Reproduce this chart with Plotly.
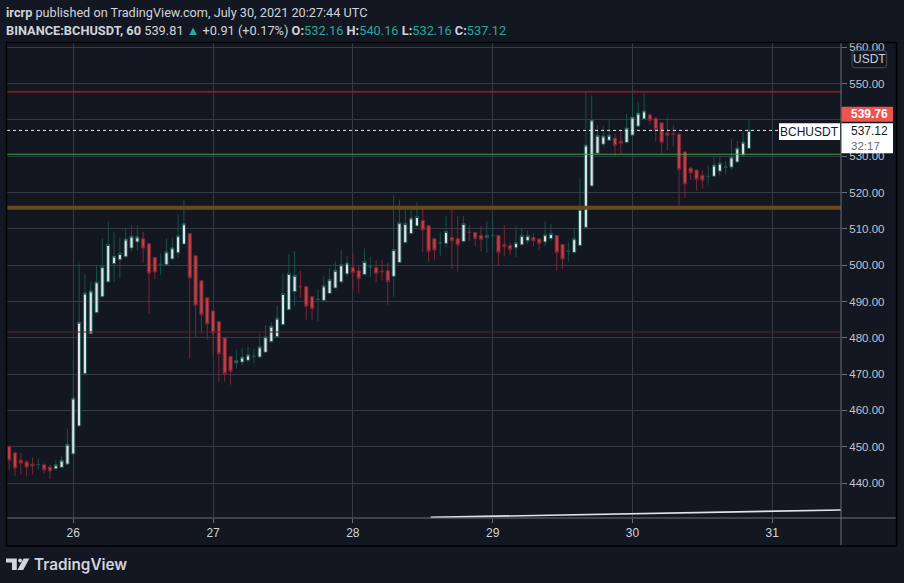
import pandas as pd
import plotly.graph_objects as go

# ---------------- data ----------------
start_time = "2021-07-25 13:00"

opens = [450.1, 448.3, 446.3, 445.8, 445.2, 445.05, 445.0, 444.4, 443.9, 444.3,
         445.2, 448.0, 455.7, 470.1, 481.1, 486.9, 491.3, 495.4, 500.4, 501.5,
         502.3, 504.7, 506.4, 507.3, 505.9, 502.1, 500.2, 500.1, 501.7, 503.4,
         505.8, 508.7, 502.6, 495.7, 491.0, 487.4, 484.4, 480.0, 474.9, 473.1,
         473.3, 473.8, 474.9, 474.7, 476.0, 478.9, 480.3, 483.6, 487.7, 492.7,
         494.1, 494.1, 491.3, 490.6, 490.3, 492.2, 493.7, 495.4, 497.6, 499.3,
         498.5, 497.4, 499.5, 499.3, 498.4, 498.5, 496.9, 500.7, 506.2, 508.7,
         510.8, 512.3, 510.9, 507.3, 506.1, 506.0, 507.6, 507.3, 506.5, 509.1,
         509.0, 508.2, 507.6, 508.1, 508.2, 505.7, 505.4, 504.8, 505.6, 506.7,
         507.6, 507.2, 506.4, 507.3, 508.2, 505.7, 503.8, 503.5, 505.4, 510.4,
         521.8, 530.8, 533.3, 534.4, 535.0, 534.2, 533.8, 535.8, 538.3, 540.3,
         541.4, 540.4, 539.2, 536.4, 536.1, 536.1, 531.2, 526.7, 526.2, 524.8,
         524.4, 524.5, 525.9, 527.0, 527.0, 528.4, 530.3, 532.16]

highs = [450.3, 448.5, 448.3, 446.4, 447.0, 446.7, 445.4, 445.0, 446.3, 447.5,
         455.0, 474.0, 500.5, 497.5, 495.5, 499.9, 507.4, 512.1, 509.1, 507.7,
         510.4, 511.0, 510.9, 509.1, 506.0, 502.2, 503.2, 507.3, 507.7, 514.0,
         517.9, 508.8, 502.7, 495.8, 491.1, 487.5, 484.5, 480.1, 475.0, 476.8,
         477.1, 477.5, 477.0, 481.2, 483.4, 484.3, 488.9, 497.7, 503.0, 503.9,
         498.5, 494.2, 491.5, 493.4, 497.0, 499.2, 501.2, 504.1, 502.6, 503.3,
         499.9, 504.6, 502.3, 501.3, 501.4, 500.7, 519.5, 517.9, 515.1, 516.1,
         517.3, 515.9, 511.0, 507.4, 509.0, 513.5, 515.7, 513.5, 513.5, 511.1,
         509.1, 510.7, 512.1, 512.8, 508.3, 511.0, 506.1, 510.7, 510.1, 509.6,
         508.8, 507.5, 512.1, 511.3, 508.3, 505.8, 506.3, 510.2, 523.8, 548.0,
         546.7, 538.7, 538.4, 540.1, 536.2, 536.9, 541.7, 549.5, 544.9, 547.5,
         541.8, 540.8, 539.3, 540.7, 538.7, 536.2, 531.3, 527.1, 526.3, 526.2,
         527.4, 530.1, 529.8, 528.7, 534.8, 534.2, 536.8, 540.16]

lows = [443.4, 442.0, 442.3, 441.8, 442.3, 443.7, 442.6, 441.1, 443.5, 444.0,
        445.0, 447.8, 455.5, 469.9, 481.0, 486.7, 491.1, 495.3, 495.4, 496.4,
        502.1, 503.8, 504.1, 500.8, 486.7, 496.1, 497.2, 500.0, 501.6, 502.1,
        505.7, 474.3, 480.2, 481.2, 479.4, 475.2, 468.0, 468.0, 467.1, 471.5,
        472.4, 473.3, 472.9, 474.3, 475.9, 478.7, 480.2, 483.5, 487.6, 488.7,
        491.0, 485.0, 485.0, 484.6, 490.2, 492.1, 493.6, 495.0, 496.8, 492.9,
        492.2, 497.3, 496.7, 495.3, 495.7, 489.1, 491.3, 500.7, 506.1, 508.6,
        510.6, 503.6, 500.9, 501.5, 502.6, 504.8, 498.9, 498.2, 506.2, 506.6,
        505.3, 503.7, 503.4, 503.5, 500.0, 502.4, 502.8, 502.3, 505.5, 505.8,
        505.3, 504.1, 505.4, 506.7, 498.5, 499.0, 501.0, 503.3, 505.2, 510.2,
        521.6, 530.6, 532.5, 534.2, 530.1, 530.5, 533.6, 535.7, 538.1, 540.1,
        538.6, 534.1, 530.9, 531.6, 532.7, 516.5, 518.6, 523.5, 520.6, 521.0,
        522.2, 524.3, 524.7, 525.0, 526.3, 528.2, 530.1, 532.16]

closes = [446.3, 444.1, 445.5, 444.4, 444.7, 445.1, 443.6, 443.3, 445.0, 446.3,
          450.7, 463.4, 484.3, 492.3, 492.9, 495.4, 499.6, 505.7, 502.5, 503.2,
          507.2, 508.0, 507.8, 504.7, 497.8, 498.1, 500.25, 503.7, 504.8, 508.1,
          511.4, 496.5, 489.0, 486.3, 483.8, 481.3, 475.6, 470.1, 470.8, 473.7,
          474.7, 475.3, 474.95, 477.5, 480.3, 483.2, 485.4, 492.2, 497.7, 497.2,
          494.05, 488.7, 488.0, 490.65, 494.3, 496.1, 498.6, 500.1, 500.6, 497.9,
          496.3, 501.0, 499.55, 497.7, 498.2, 495.5, 504.3, 511.7, 511.5, 513.0,
          513.4, 509.7, 503.8, 504.2, 506.15, 509.3, 506.7, 505.6, 511.5, 509.05,
          507.3, 507.1, 508.2, 508.15, 503.5, 505.1, 504.3, 506.2, 508.2, 508.2,
          506.7, 506.0, 508.4, 508.7, 503.5, 501.7, 503.85, 507.3, 515.4, 533.1,
          540.0, 535.8, 535.6, 535.8, 533.0, 533.6, 537.8, 540.8, 541.9, 542.5,
          539.9, 537.4, 533.8, 535.8, 536.05, 526.4, 522.4, 525.4, 523.6, 523.4,
          524.45, 527.6, 528.1, 527.05, 529.8, 532.3, 533.9, 537.12]

day_ticks = ["2021-07-26", "2021-07-27", "2021-07-28", "2021-07-29", "2021-07-30", "2021-07-31"]
day_labels = ["26", "27", "28", "29", "30", "31"]

price_ticks = [440, 450, 460, 470, 480, 490, 500, 510, 520, 530, 540, 550, 560]
price_tick_labels = ["440.00", "450.00", "460.00", "470.00", "480.00", "490.00", "500.00",
                     "510.00", "520.00", "530.00", "", "550.00", "560.00"]

level_prices = [547.8, 530.55, 515.8, 481.6]
last_price = 537.12
marked_price_label = "539.76"
last_price_label = "537.12"
countdown_label = "32:17"
symbol_label = "BCHUSDT"
currency_label = "USDT"

trend_times = ["2021-07-28 13:22", "2021-07-31 12:00"]
trend_prices = [430.55, 432.57]

x_range = ["2021-07-25 12:37:20", "2021-07-31 11:48:10"]
y_range = [430.36, 561.2]

times = pd.date_range(start_time, periods=len(opens), freq="h")

# ---------------- styling ----------------
BG = "#131722"
GRID = "#363a45"
AXIS = "#6b6e78"
TXT = "#d1d4dc"
TEAL = "#2ba89b"
FONT = "Liberation Sans"
HFONT = "Roboto"

level_colors = ["#7d1d23", "#43a047", "#674a1b", "#61202a"]
level_widths = [2, 1, 4, 1]

W, H = 904, 583
L, R, T, B = 7, 841, 43, 518


def px(x):
    return (x - L) / (R - L)


def py(y):
    return (B - y) / (B - T)


fig = go.Figure()

fig.add_trace(go.Candlestick(
    x=times, open=opens, high=highs, low=lows, close=closes,
    increasing=dict(line=dict(color="#17514c", width=1), fillcolor="#e1e3e8"),
    decreasing=dict(line=dict(color="#7a2630", width=1), fillcolor="#c1414b"),
    whiskerwidth=0, showlegend=False, hoverinfo="skip",
))

fig.add_trace(go.Scatter(
    x=trend_times, y=trend_prices, mode="lines",
    line=dict(color="#e0e3eb", width=1.6), showlegend=False, hoverinfo="skip",
))

shapes = []
for p, c, w in zip(level_prices, level_colors, level_widths):
    shapes.append(dict(type="line", xref="paper", yref="y", x0=0, x1=1, y0=p, y1=p,
                       line=dict(color=c, width=w), layer="above"))
# last price dotted line
shapes.append(dict(type="line", xref="paper", yref="y", x0=0, x1=px(779), y0=last_price, y1=last_price,
                   line=dict(color="#e8eaed", width=1, dash="dot"), layer="above"))
# cover above chart pane (clips top axis label)
shapes.append(dict(type="rect", xref="paper", yref="paper", x0=px(841.5), x1=px(904), y0=py(42.6), y1=py(0),
                   fillcolor=BG, line=dict(width=0), layer="above"))
# x axis line across to the frame
shapes.append(dict(type="line", xref="paper", yref="paper", x0=px(7), x1=px(896.5), y0=py(518), y1=py(518),
                   line=dict(color=AXIS, width=1), layer="above"))
# price axis separator
shapes.append(dict(type="line", xref="paper", yref="paper", x0=px(841), x1=px(841), y0=py(42.5), y1=py(546),
                   line=dict(color=AXIS, width=1), layer="above"))
# outer frame
shapes.append(dict(type="rect", xref="paper", yref="paper", x0=px(6.5), x1=px(896.5), y0=py(546), y1=py(42.5),
                   line=dict(color="#000000", width=1.5), fillcolor="rgba(0,0,0,0)", layer="above"))

# price labels
shapes.append(dict(type="rect", xref="paper", yref="paper", x0=px(841.5), x1=px(893), y0=py(121.7), y1=py(106.7),
                   fillcolor="#ef5350", line=dict(width=0), layer="above"))
shapes.append(dict(type="rect", xref="paper", yref="paper", x0=px(841.5), x1=px(893), y0=py(153.3), y1=py(123.3),
                   fillcolor="#ffffff", line=dict(width=0), layer="above"))
shapes.append(dict(type="rect", xref="paper", yref="paper", x0=px(779), x1=px(840), y0=py(140), y1=py(123.3),
                   fillcolor="#ffffff", line=dict(width=0), layer="above"))


def rounded_rect(x0, y0, x1, y1, r):
    X = lambda v: px(v)
    Y = lambda v: py(v)
    return (f"M {X(x0 + r)},{Y(y0)} L {X(x1 - r)},{Y(y0)} Q {X(x1)},{Y(y0)} {X(x1)},{Y(y0 + r)} "
            f"L {X(x1)},{Y(y1 - r)} Q {X(x1)},{Y(y1)} {X(x1 - r)},{Y(y1)} "
            f"L {X(x0 + r)},{Y(y1)} Q {X(x0)},{Y(y1)} {X(x0)},{Y(y1 - r)} "
            f"L {X(x0)},{Y(y0 + r)} Q {X(x0)},{Y(y0)} {X(x0 + r)},{Y(y0)} Z")


shapes.append(dict(type="path", xref="paper", yref="paper", path=rounded_rect(852, 50.7, 886.7, 67.7, 3),
                   line=dict(color="#4a4d57", width=1), fillcolor=BG, layer="above"))

# TradingView logo
def poly(pts):
    return "M " + " L ".join(f"{px(a)},{py(b)}" for a, b in pts) + " Z"


LOGO = "#d1d4dc"
shapes.append(dict(type="path", xref="paper", yref="paper",
                   path=poly([(6, 558.4), (16.8, 558.4), (16.8, 570), (12, 570), (12, 562.6), (6, 562.6)]),
                   fillcolor=LOGO, line=dict(width=0), layer="above"))
shapes.append(dict(type="circle", xref="paper", yref="paper", x0=px(18.2), x1=px(22.0), y0=py(562.4), y1=py(558.6),
                   fillcolor=LOGO, line=dict(width=0), layer="above"))
shapes.append(dict(type="path", xref="paper", yref="paper",
                   path=poly([(23.6, 558.4), (29.4, 558.4), (23.2, 570), (17.4, 570)]),
                   fillcolor=LOGO, line=dict(width=0), layer="above"))

annotations = []


def note(text, x, y, size=12, color=TXT, xanchor="left", family=FONT, weight=None):
    f = dict(family=family, size=size, color=color)
    if weight:
        f["weight"] = weight
    annotations.append(dict(text=text, x=px(x), y=py(y), xref="paper", yref="paper", showarrow=False,
                            xanchor=xanchor, yanchor="middle", borderpad=0, font=f))


note("<b>ircrp</b> published on TradingView.com, July 30, 2021 20:27:44 UTC", 5, 12.8, size=12.7, family=HFONT)
hdr = (f"<b>BINANCE:BCHUSDT, 60</b> 539.81 <span style='color:{TEAL}'>▲</span> +0.91 (+0.17%) "
       f"<b>O:</b><span style='color:{TEAL}'>{opens[-1]:.2f}</span> "
       f"<b>H:</b><span style='color:{TEAL}'>{highs[-1]:.2f}</span> "
       f"<b>L:</b><span style='color:{TEAL}'>{lows[-1]:.2f}</span> "
       f"<b>C:</b><span style='color:{TEAL}'>{closes[-1]:.2f}</span>")
note(hdr, 5, 30.3, size=12.8, family=HFONT)

note(currency_label, 869.3, 59.3, size=12, xanchor="center")
note(f"<b>{marked_price_label}</b>", 850, 114.3, size=12, color="#ffffff")
note(last_price_label, 850.5, 131.4, size=12, color="#131722")
note(countdown_label, 850.5, 145.6, size=11.5, color="#6a6d78")
note(symbol_label, 809.5, 131.8, size=12, color="#131722", xanchor="center")
note("TradingView", 32.5, 564.2, size=15.3, color=LOGO, family="Inter", weight=600)

fig.update_layout(
    width=W, height=H,
    margin=dict(l=L, r=W - R, t=T, b=H - B, pad=0),
    paper_bgcolor=BG, plot_bgcolor=BG,
    showlegend=False,
    boxgap=0.22,
    shapes=shapes,
    annotations=annotations,
    font=dict(family=FONT, color=TXT),
    xaxis=dict(
        type="date", range=x_range, rangeslider=dict(visible=False),
        tickmode="array", tickvals=day_ticks, ticktext=day_labels,
        showgrid=True, gridcolor=GRID, gridwidth=1,
        ticks="outside", ticklen=4, tickcolor=AXIS,
        tickfont=dict(family=FONT, size=12, color=TXT),
        showline=False, zeroline=False, fixedrange=True,
    ),
    yaxis=dict(
        side="right", range=y_range,
        tickmode="array", tickvals=price_ticks, ticktext=price_tick_labels,
        showgrid=True, gridcolor=GRID, gridwidth=1,
        ticks="outside", ticklen=5, tickcolor=AXIS,
        tickfont=dict(family=FONT, size=11.5, color="#c3c6ce"),
        showline=False, zeroline=False, fixedrange=True,
    ),
)

fig.write_html(
    "out.html",
    config={"displayModeBar": False, "staticPlot": True},
    post_script="document.body.style.margin='0';document.body.style.padding='0';"
                "document.documentElement.style.background='#131722';",
)
